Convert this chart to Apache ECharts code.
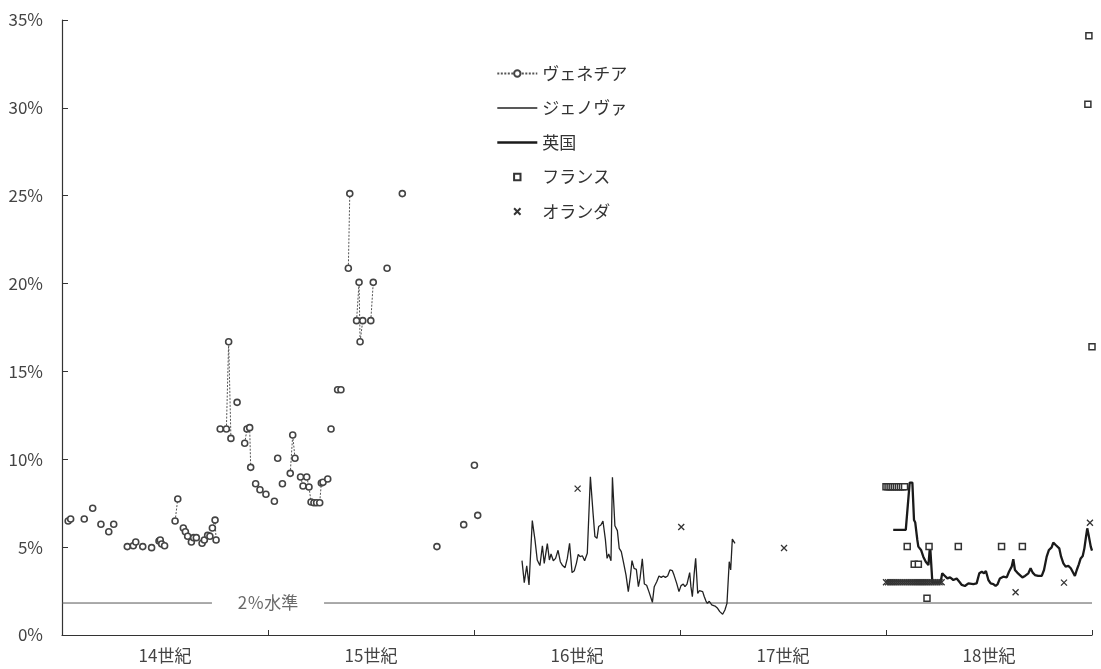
<!DOCTYPE html>
<html><head><meta charset="utf-8">
<script src="https://cdn.jsdelivr.net/npm/echarts@6/dist/echarts.min.js"></script>
<style>html,body{margin:0;padding:0;background:#fff}#c{width:1101px;height:669px}</style>
</head><body><div id="c"></div>
<script>
// ---- data ----
const centuryTicks = [1300, 1400, 1500, 1600, 1700, 1800];
const centuryLabelPos = [1350, 1450, 1550, 1650, 1750];
const centuryLabels = ['14世紀', '15世紀', '16世紀', '17世紀', '18世紀'];
const yTicks = [0, 5, 10, 15, 20, 25, 30, 35];
const seriesNames = ['ヴェネチア', 'ジェノヴァ', '英国', 'フランス', 'オランダ'];
const refLevel = 1.82;
const refLabel = '2％水準';

// Venice: runs of connected observations
const veniceRuns = [
  [[1303.0,6.49],[1304.2,6.6]],
  [[1310.8,6.6]],
  [[1314.9,7.21]],
  [[1318.9,6.3]],
  [[1322.7,5.88]],
  [[1325.1,6.3]],
  [[1331.7,5.03]],
  [[1334.6,5.08],[1335.8,5.29]],
  [[1339.2,5.03]],
  [[1343.5,4.97]],
  [[1347.1,5.35],[1347.7,5.41],[1348.4,5.18],[1349.8,5.08]],
  [[1354.9,6.49],[1356.2,7.74]],
  [[1358.9,6.09],[1359.9,5.88],[1361.0,5.62],[1362.8,5.29],[1363.9,5.54],[1365.2,5.54]],
  [[1368.0,5.22],[1369.1,5.41],[1370.7,5.67],[1371.8,5.62],[1373.0,6.09],[1374.3,6.54],[1374.8,5.41]],
  [[1376.8,11.72]],
  [[1379.8,11.72],[1380.9,16.69],[1382.0,11.19]],
  [[1385.0,13.24]],
  [[1388.7,10.91],[1389.8,11.72],[1391.1,11.8],[1391.6,9.54]],
  [[1394.0,8.61]],
  [[1396.1,8.27]],
  [[1399.0,8.01]],
  [[1403.1,7.61]],
  [[1404.7,10.06]],
  [[1407.0,8.61]],
  [[1410.8,9.2],[1412.0,11.38],[1413.1,10.06]],
  [[1415.8,8.99],[1417.0,8.48]],
  [[1418.8,8.99],[1419.9,8.42],[1420.9,7.57],[1422.3,7.53],[1423.6,7.53],[1425.1,7.53],[1425.9,8.65],[1426.7,8.69]],
  [[1429.0,8.88]],
  [[1430.6,11.72]],
  [[1433.8,13.96],[1435.4,13.96]],
  [[1439.0,20.87],[1439.7,25.12]],
  [[1443.0,17.89],[1444.2,20.07],[1444.7,16.69],[1446.0,17.89]],
  [[1449.9,17.89],[1451.1,20.07]],
  [[1457.8,20.87]],
  [[1465.2,25.12]],
  [[1482.0,5.03]],
  [[1495.0,6.28]],
  [[1500.2,9.66]],
  [[1501.8,6.81]]
];

const genoa = [
  [1523.3,4.23],[1524.4,2.98],[1525.6,3.93],[1526.7,2.85],[1528.3,6.51],[1529.6,5.41],[1530.7,4.27],
  [1532.0,3.95],[1533.2,5.07],[1534.1,4.08],[1535.6,5.20],[1536.6,4.27],[1537.4,4.61],[1538.5,4.23],
  [1539.6,4.36],[1540.8,4.82],[1541.9,4.17],[1543.0,3.95],[1544.2,3.83],[1545.3,4.36],[1546.4,5.22],
  [1547.6,3.55],[1548.7,3.66],[1549.7,4.08],[1550.6,4.59],[1551.5,4.46],[1552.6,4.51],[1553.7,4.23],
  [1555.0,4.65],[1556.5,9.01],[1557.8,6.92],[1558.7,5.60],[1559.7,5.50],[1560.5,6.17],[1561.6,6.26],
  [1562.6,6.49],[1563.8,5.41],[1564.6,4.36],[1565.4,4.61],[1566.5,4.23],[1567.2,8.97],[1568.4,6.22],
  [1569.6,5.94],[1570.5,4.93],[1571.5,4.74],[1572.5,4.17],[1573.8,3.41],[1574.9,2.47],[1575.9,3.32],
  [1576.7,4.23],[1577.7,3.79],[1578.8,3.74],[1579.8,2.75],[1580.6,3.22],[1581.7,4.34],[1582.7,2.90],
  [1583.8,2.83],[1584.9,2.47],[1585.8,2.37],[1586.6,1.86],[1587.5,2.75],[1588.7,3.03],[1589.8,3.36],
  [1590.9,3.28],[1591.9,3.36],[1592.9,3.28],[1594.0,3.36],[1595.1,3.70],[1596.3,3.66],[1597.1,3.41],
  [1598.4,2.94],[1599.5,2.47],[1600.5,2.81],[1601.6,2.90],[1602.4,2.75],[1603.4,2.90],[1604.7,3.55],
  [1605.3,2.75],[1606.0,2.18],[1606.9,3.51],[1607.6,4.36],[1608.6,2.37],[1609.4,2.52],[1610.2,2.56],
  [1611.0,2.47],[1611.8,2.18],[1612.6,1.93],[1613.3,1.80],[1614.2,1.92],[1615.4,1.71],[1617.0,1.65],
  [1618.1,1.54],[1619.3,1.33],[1620.7,1.18],[1621.8,1.42],[1622.8,1.80],[1623.9,4.17],[1624.6,3.70],
  [1625.4,5.46],[1626.7,5.22]
];

const england = [
  [1703.5,5.98],[1709.6,5.98],[1711.5,8.67],[1712.8,8.67],[1713.6,6.54],[1714.2,6.4],[1715.2,5.41],
  [1715.7,5.03],[1717.0,4.84],[1718.1,4.46],[1719.3,4.17],[1720.6,3.98],[1721.4,5.12],[1722.3,5.12],
  [1722.5,3.0],[1726.5,3.0],[1727.3,3.51],[1728.6,3.36],[1729.8,3.22],[1731.1,3.28],[1732.7,3.13],
  [1734.3,3.22],[1735.6,3.03],[1736.8,2.85],[1738.3,2.79],[1740.0,2.94],[1742.4,2.9],[1744.0,2.94],
  [1745.3,3.51],[1746.5,3.6],[1747.6,3.51],[1748.5,3.64],[1749.7,3.13],[1750.8,2.94],[1752.1,2.9],
  [1753.2,2.79],[1754.2,2.9],[1755.3,3.22],[1756.9,3.32],[1758.6,3.28],[1759.7,3.6],[1761.0,3.89],
  [1761.8,4.31],[1762.6,3.7],[1763.7,3.55],[1765.0,3.41],[1766.2,3.28],[1767.5,3.36],[1769.1,3.51],
  [1770.2,3.8],[1771.2,3.55],[1772.3,3.41],[1773.9,3.36],[1775.6,3.36],[1776.7,3.7],[1778.0,4.46],
  [1779.1,4.84],[1780.4,4.99],[1781.2,5.26],[1782.4,5.12],[1783.3,5.22],[1784.1,4.93],[1785.0,4.46],
  [1786.1,4.08],[1787.2,3.89],[1788.5,3.93],[1789.7,3.8],[1790.6,3.7],[1791.7,3.36],[1792.6,3.7],
  [1793.6,4.02],[1794.5,4.36],[1795.5,4.5],[1796.3,4.93],[1797.1,5.6],[1797.7,6.07],[1798.5,5.6],
  [1799.4,5.03],[1800.0,4.8]
];

const france = [
  [1700,8.44],[1701,8.44],[1702,8.44],[1703,8.44],[1704,8.44],[1705,8.44],[1706,8.44],[1707,8.44],
  [1708,8.44],[1709,8.44],[1710.3,5.03],[1713.7,4.02],[1715.7,4.02],[1719.9,2.09],[1720.9,5.03],
  [1735.1,5.03],[1756.1,5.03],[1766.2,5.03],[1798.0,30.2],[1798.5,34.1],[1800.0,16.4]
];

const dutch = [
  [1550.3,8.33],[1600.6,6.15],[1650.5,4.95],
  [1700,3.0],[1701,3.0],[1702,3.0],[1703,3.0],[1704,3.0],[1705,3.0],[1706,3.0],[1707,3.0],
  [1708,3.0],[1709,3.0],[1710,3.0],[1711,3.0],[1712,3.0],[1713,3.0],[1714,3.0],[1715,3.0],
  [1716,3.0],[1717,3.0],[1718,3.0],[1719,3.0],[1720,3.0],[1721,3.0],[1722,3.0],[1723,3.0],
  [1724,3.0],[1725,3.0],[1726,3.0],[1727,3.0],
  [1762.9,2.43],[1786.4,2.98],[1799.0,6.39]
];

const refSegments = [[[1300, refLevel], [1372.8, refLevel]], [[1427.2, refLevel], [1800, refLevel]]];

// ---- build ----
function withBreaks(runs) {
  const out = [];
  runs.forEach((r, i) => { if (i) out.push(['-', '-']); r.forEach(p => out.push(p)); });
  return out;
}
const FONT = '"Noto Sans CJK JP", "Noto Sans", sans-serif';
const INK = '#333';
const hiddenDot = {color: 'transparent', borderColor: 'transparent', borderWidth: 0, opacity: 0};
const chart = echarts.init(document.getElementById('c'), null, {renderer: 'canvas'});
chart.setOption({
  animation: false,
  backgroundColor: '#fff',
  textStyle: {fontFamily: FONT},
  grid: {left: 62, right: 9, top: 20, bottom: 34, containLabel: false},
  legend: {
    orient: 'vertical', left: 491, top: 60, itemWidth: 40, itemHeight: 8, itemGap: 17.5,
    textStyle: {fontSize: 17, color: INK, fontFamily: FONT},
    data: [
      {name: seriesNames[0]},
      {name: seriesNames[1], itemStyle: hiddenDot, lineStyle: {width: 1.3, color: '#222'}},
      {name: seriesNames[2], itemStyle: hiddenDot, lineStyle: {width: 2.6, color: '#1a1a1a'}},
      {name: seriesNames[3]},
      {name: seriesNames[4]}
    ]
  },
  xAxis: {
    type: 'value', min: 1300, max: 1800,
    axisLine: {show: true, lineStyle: {color: INK, width: 1.2}},
    axisTick: {show: true, inside: true, length: 5, customValues: centuryTicks, lineStyle: {color: INK}},
    axisLabel: {
      show: true, customValues: centuryLabelPos, fontSize: 17, color: '#444', margin: 12, fontFamily: FONT,
      formatter: v => centuryLabels[centuryLabelPos.indexOf(v)] || ''
    },
    splitLine: {show: false}
  },
  yAxis: {
    type: 'value', min: 0, max: 35, interval: 5,
    axisLine: {show: true, lineStyle: {color: INK, width: 1.2}},
    axisTick: {show: true, inside: true, length: 6, lineStyle: {color: INK}},
    axisLabel: {fontSize: 17, color: '#444', margin: 19, fontFamily: FONT,
      formatter: v => yTicks.indexOf(v) >= 0 ? v + '%' : ''},
    splitLine: {show: false}
  },
  series: [
    {
      name: 'ref', type: 'line', data: withBreaks(refSegments), symbol: 'none', connectNulls: false,
      lineStyle: {color: '#555', width: 1}, silent: true, z: 1
    },
    {
      name: 'refLabel', type: 'scatter', data: [[1400, refLevel]], symbol: 'circle', symbolSize: 0,
      label: {show: true, position: 'inside', formatter: refLabel, fontSize: 17, color: '#444', fontFamily: FONT},
      silent: true, z: 1
    },
    {
      name: seriesNames[0], type: 'line', data: withBreaks(veniceRuns), connectNulls: false,
      symbol: 'circle', symbolSize: 6, showSymbol: true,
      lineStyle: {color: '#555', width: 1, type: [2, 1.5]},
      itemStyle: {color: '#fff', borderColor: '#444', borderWidth: 1.6}, z: 3
    },
    {
      name: seriesNames[1], type: 'line', data: genoa, symbol: 'none',
      lineStyle: {color: '#222', width: 1.3}, itemStyle: {color: '#222'}, z: 2
    },
    {
      name: seriesNames[2], type: 'line', data: england, symbol: 'none',
      lineStyle: {color: '#1a1a1a', width: 2.3}, itemStyle: {color: '#1a1a1a'}, z: 2
    },
    {
      name: seriesNames[3], type: 'line', data: france, symbol: 'rect', symbolSize: 6, showSymbol: true,
      lineStyle: {opacity: 0, width: 0}, itemStyle: {color: '#fff', borderColor: '#333', borderWidth: 1.5}, z: 4
    },
    {
      name: seriesNames[4], type: 'line', data: dutch, symbol: 'path://M0,0L10,10M10,0L0,10', symbolSize: 6,
      showSymbol: true, lineStyle: {opacity: 0, width: 0},
      itemStyle: {color: 'none', borderColor: '#333', borderWidth: 1.3}, z: 4
    }
  ]
});
</script>
</body></html>
